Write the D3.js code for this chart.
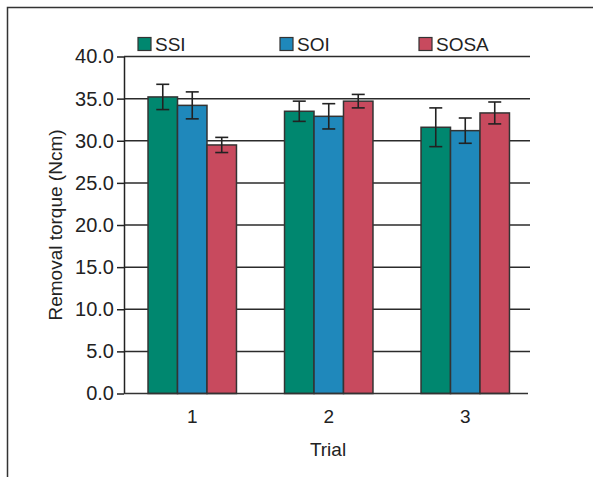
<!DOCTYPE html>
<html>
<head>
<meta charset="utf-8">
<script src="https://cdn.jsdelivr.net/npm/d3@7"></script>
<style>
body { margin: 0; background: #fff; }
svg { display: block; font-family: "Liberation Sans", Arial, sans-serif; }
</style>
</head>
<body>
<svg width="593" height="477"></svg>
<script>
var trials = ["1", "2", "3"];
var keys = ["SSI", "SOI", "SOSA"];
var colors = ["#00876f", "#1f88bb", "#c84a5e"];
// means and error (per trial, in keys order)
var ssi = [35.2, 33.5, 31.6];
var soi = [34.2, 32.9, 31.2];
var sosa = [29.5, 34.7, 33.3];
var ssiErr = [1.5, 1.2, 2.3];
var soiErr = [1.6, 1.5, 1.5];
var sosaErr = [0.9, 0.8, 1.3];
var yTicks = [0, 5, 10, 15, 20, 25, 30, 35, 40];

var values = [ssi, soi, sosa];
var errs = [ssiErr, soiErr, sosaErr];
var data = [];
trials.forEach(function(t, i) {
    keys.forEach(function(k, j) {
        data.push({trial: t, key: k, v: values[j][i], e: errs[j][i], c: colors[j]});
    });
});

var svg = d3.select("svg");
var plotL = 124, plotR = 528, plotT = 56.5, plotB = 393.5;

// outer frame
svg.append("rect").attr("x", 7.5).attr("y", 7.5).attr("width", 600).attr("height", 500)
    .attr("fill", "none").attr("stroke", "#333").attr("stroke-width", 1.5);

var x0 = d3.scaleBand().domain(trials).range([plotL, 533.5]).paddingInner(0.352).paddingOuter(0.176);
var x1 = d3.scaleBand().domain(keys).range([0, x0.bandwidth()]);
var y = d3.scaleLinear().domain([0, 40]).range([plotB, plotT]);

// gridlines
svg.append("g").selectAll("line").data(yTicks.filter(d => d > 0)).enter().append("line")
    .attr("x1", plotL).attr("x2", 530)
    .attr("y1", d => y(d)).attr("y2", d => y(d))
    .attr("stroke", "#2b2b2b").attr("stroke-width", 1.5);

// bars
svg.append("g").selectAll("rect").data(data).enter().append("rect")
    .attr("x", d => x0(d.trial) + x1(d.key))
    .attr("y", d => y(d.v))
    .attr("width", x1.bandwidth())
    .attr("height", d => y(0) - y(d.v))
    .attr("fill", d => d.c)
    .attr("stroke", "#333").attr("stroke-width", 1.5);

// error bars
var eb = svg.append("g").attr("stroke", "#222").attr("stroke-width", 1.6);
data.forEach(function(d) {
    var cx = x0(d.trial) + x1(d.key) + x1.bandwidth() / 2;
    eb.append("line").attr("x1", cx).attr("x2", cx).attr("y1", y(d.v + d.e)).attr("y2", y(d.v - d.e));
    eb.append("line").attr("x1", cx - 6.5).attr("x2", cx + 6.5).attr("y1", y(d.v + d.e)).attr("y2", y(d.v + d.e));
    eb.append("line").attr("x1", cx - 6.5).attr("x2", cx + 6.5).attr("y1", y(d.v - d.e)).attr("y2", y(d.v - d.e));
});

// y axis
var yAxis = svg.append("g").attr("transform", "translate(" + plotL + ",0)")
    .call(d3.axisLeft(y).tickValues(yTicks).tickFormat(d3.format(".1f")).tickSize(7).tickSizeOuter(0).tickPadding(3));
yAxis.select(".domain").attr("stroke", "#222").attr("stroke-width", 1.5);
yAxis.selectAll(".tick line").attr("stroke", "#222").attr("stroke-width", 1.5);
yAxis.selectAll("text").attr("font-size", 20).attr("fill", "#222").attr("font-family", "Liberation Sans");

// x axis
svg.append("line").attr("x1", plotL).attr("x2", plotR).attr("y1", plotB).attr("y2", plotB)
    .attr("stroke", "#333").attr("stroke-width", 1.5);
svg.append("g").selectAll("text").data(trials).enter().append("text")
    .attr("x", d => x0(d) + x0.bandwidth() / 2).attr("y", 423)
    .attr("text-anchor", "middle").attr("font-size", 19).attr("fill", "#222")
    .text(d => d);

svg.append("text").attr("x", 328).attr("y", 456).attr("text-anchor", "middle")
    .attr("font-size", 19).attr("fill", "#222").text("Trial");
svg.append("text").attr("transform", "translate(62,225) rotate(-90)").attr("text-anchor", "middle")
    .attr("font-size", 19).attr("fill", "#222").text("Removal torque (Ncm)");

// legend
var legX = [138, 280, 419];
var leg = svg.append("g").selectAll("g").data(keys).enter().append("g")
    .attr("transform", (d, i) => "translate(" + legX[i] + ",37.5)");
leg.append("rect").attr("width", 13).attr("height", 13)
    .attr("fill", (d, i) => colors[i]).attr("stroke", "#333").attr("stroke-width", 1.2);
leg.append("text").attr("x", 17).attr("y", 13.5).attr("font-size", 19)
    .attr("fill", "#222").attr("font-family", "Liberation Sans")
    .text(d => d);
</script>
</body>
</html>
